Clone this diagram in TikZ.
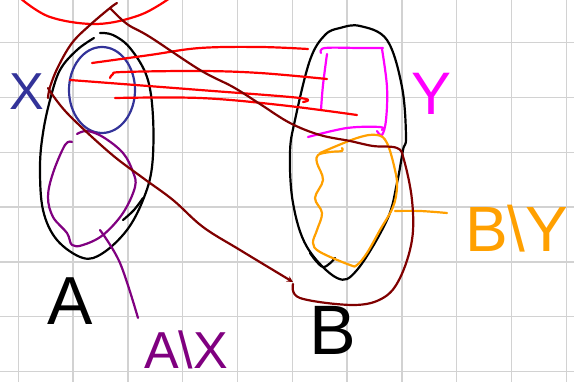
\documentclass[tikz,border=0pt]{standalone}
\usepackage{fontspec}
\setmainfont{Liberation Sans}
\usetikzlibrary{arrows.meta}
\definecolor{gridgray}{HTML}{D2D2D2}
\definecolor{penred}{HTML}{FF0000}
\definecolor{penmaroon}{HTML}{800000}
\definecolor{penblue}{HTML}{333399}
\definecolor{penmagenta}{HTML}{FF00FF}
\definecolor{penorange}{HTML}{FFA000}
\definecolor{penpurple}{HTML}{800080}
\tikzset{
  gridline/.style={gridgray, line width=1.5pt},
  pen/.style={line width=2.2pt, line cap=round, line join=round},
  sm/.style={smooth, tension=0.6},
  lbl/.style={inner sep=0pt, anchor=base},
}
\begin{document}
\begin{tikzpicture}[x=1pt,y=-1pt]
\useasboundingbox (0,0) rectangle (574,382);
\clip (0,0) rectangle (574,382);
\fill[white] (0,0) rectangle (574,382);
% grid
\foreach \k in {0,...,10} {\draw[gridline] ({18.3+54.8*\k},0) -- ({18.3+54.8*\k},382);}
\foreach \k in {0,...,6} {\draw[gridline] (0,{42.7+54.8*\k}) -- (574,{42.7+54.8*\k});}

% red arc at top
\draw[pen, penred] plot[sm] coordinates {(20,-2) (50,17) (97,24) (140,15) (170,-2)};

% ellipse A (black)
\draw[pen, black] plot[sm] coordinates {(100,33) (113,35) (130,48) (147,77) (153,117) (152,167) (143,200) (127,230) (103,253) (83,258) (57,240) (43,210) (40,167) (43,133) (50,100) (60,70) (77,50) (94,38)};
\draw[pen, black] plot[sm] coordinates {(123,220) (134,210) (143,198)};

% blue circle X
\draw[pen, penblue] (102,90) ellipse [x radius=33, y radius=43];

% purple A\X region
\draw[pen, penpurple] plot[sm] coordinates {(77,134) (87,131) (103,137) (123,153) (133,172) (135,187) (123,213) (103,235) (83,245) (72,245) (67,233) (53,217) (48,197) (53,173) (65,145) (72,142)};
\draw[pen, penpurple] plot[sm] coordinates {(100,230) (120,263) (138,318)};

% ellipse B (black)
\draw[pen, black] plot[smooth cycle, tension=0.6] coordinates {(360,26) (387,40) (402,87) (406,137) (403,150) (397,183) (387,220) (357,270) (337,278) (307,247) (293,203) (290,153) (295,120) (310,60) (325,35) (340,28)};
\draw[pen, black] plot[sm] coordinates {(310,253) (323,267) (335,258)};

% magenta Y rectangle
\draw[pen, penmagenta] plot[sm] coordinates {(321,53) (325,48) (360,48) (383,48)};
\draw[pen, penmagenta] plot[sm] coordinates {(327,54) (323,85) (321,110)};
\draw[pen, penmagenta] plot[sm] coordinates {(382,49) (387,87) (386,120) (382,135) (377,131)};
\draw[pen, penmagenta] plot[sm] coordinates {(308,137) (347,128) (380,127) (382,130)};

% orange B\Y region
\draw[pen, penorange] plot[sm] coordinates {(342,148) (342,151) (330,152) (318,155) (317,163) (323,180) (315,198) (322,213) (317,230) (313,243) (320,252) (350,265) (357,265) (367,253) (380,230) (393,207) (397,187) (395,170) (387,143) (377,135) (357,138) (320,153)};
\draw[pen, penorange] plot[sm] coordinates {(395,211) (420,211) (447,213)};

% red lines
\draw[pen, penred] plot[sm] coordinates {(92,63) (150,55) (200,48) (260,47) (308,49)};
\draw[pen, penred] plot[sm] coordinates {(110,78) (113,74) (123,72) (200,71) (260,73) (327,79)};
\draw[pen, penred] plot[sm] coordinates {(70,80) (200,90) (300,98) (303,102)};
\draw[pen, penred] plot[sm] coordinates {(115,98) (200,98) (280,105) (357,115)};

% maroon lasso and arrow
\draw[pen, penmaroon] plot[sm] coordinates {(293,284) (300,298) (353,305) (383,298) (400,278) (412,240) (412,200) (404,160) (397,148) (373,146) (350,141) (320,135) (290,123) (260,104) (233,87) (200,70) (150,37) (127,24) (110,8)};
\draw[pen, penmaroon] plot[sm] coordinates {(117,3) (110,8) (90,25) (72,43) (58,67) (50,87) (48,98)};
\draw[pen, penmaroon, -{Stealth[length=6pt,width=6pt]}] plot[sm] coordinates {(48,88) (67,113) (110,153) (143,178) (173,200) (203,227) (240,250) (293,282)};

% labels
\node[lbl, penblue, font=\fontsize{52}{60}\selectfont] (lblX) at (27,110) {X};
\node[lbl, black, font=\fontsize{68}{80}\selectfont] (lblA) at (70,325) {A};
\node[lbl, penmagenta, font=\fontsize{60}{70}\selectfont] (lblY) at (432,115) {Y};
\node[lbl, black, font=\fontsize{70}{80}\selectfont] (lblB) at (333,355) {B};
\node[lbl, penpurple, anchor=base west, font=\fontsize{52}{60}\selectfont] (lblAX) at (144,369) {A\textbackslash X};
\node[lbl, penorange, anchor=base west, font=\fontsize{64}{72}\selectfont] (lblBY) at (465,252) {B\textbackslash Y};
\end{tikzpicture}
\end{document}
